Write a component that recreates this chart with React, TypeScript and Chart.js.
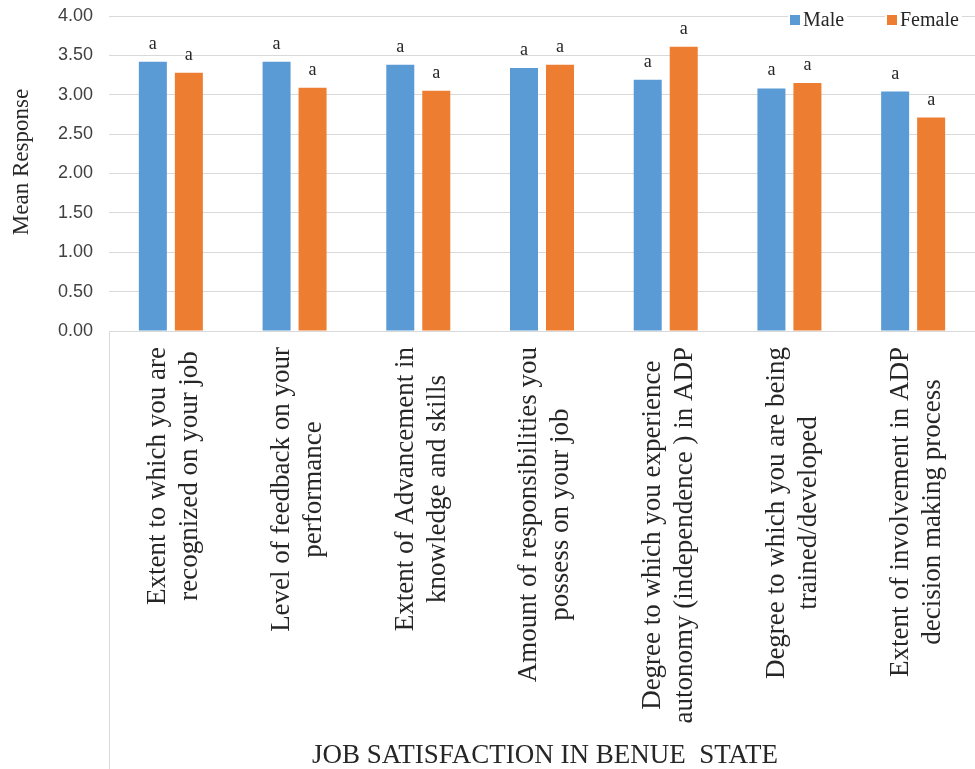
import { useEffect, useRef } from "react";
import { Chart, registerables } from "chart.js";

Chart.register(...registerables);

const categories: string[][] = [
  ["Extent to which you are", "recognized on your job"],
  ["Level of feedback on your", "performance"],
  ["Extent of Advancement in", "knowledge and skills"],
  ["Amount of responsibilities you", "possess on your job"],
  ["Degree to which you experience", "autonomy (independence ) in ADP"],
  ["Degree to which you are being", "trained/developed"],
  ["Extent of involvement in ADP", "decision making process"],
];

const seriesNames = ["Male", "Female"];
const maleValues = [3.42, 3.42, 3.38, 3.34, 3.19, 3.08, 3.04];
const femaleValues = [3.28, 3.09, 3.05, 3.38, 3.61, 3.15, 2.71];
const maleLetters = ["a", "a", "a", "a", "a", "a", "a"];
const femaleLetters = ["a", "a", "a", "a", "a", "a", "a"];
const seriesColors = ["#5b9bd5", "#ed7d31"];

const yMin = 0;
const yMax = 4;
const yStep = 0.5;

const yTitle = "Mean Response";
const xTitle = "JOB SATISFACTION IN BENUE  STATE";

const SERIF = '"Liberation Serif", "Times New Roman", serif';
const SANS = '"Liberation Sans", Arial, sans-serif';
const TEXT = "#262626";
const GRID = "#d9d9d9";

const overlayPlugin = {
  id: "overlay",
  afterDatasetsDraw(chart: any) {
    const ctx: CanvasRenderingContext2D = chart.ctx;
    const area = chart.chartArea;
    const xs = chart.scales.x;
    ctx.save();

    // significance letters above bars
    ctx.font = `18px ${SERIF}`;
    ctx.fillStyle = TEXT;
    ctx.textAlign = "center";
    ctx.textBaseline = "alphabetic";
    [maleLetters, femaleLetters].forEach((letters, di) => {
      const meta = chart.getDatasetMeta(di);
      meta.data.forEach((bar: any, i: number) => {
        ctx.fillText(letters[i], bar.x, bar.y - 13);
      });
    });

    // category labels (rotated, lines centred, block near axis)
    const fs = 27;
    const lh = 32;
    ctx.font = `${fs}px ${SERIF}`;
    ctx.textAlign = "center";
    ctx.textBaseline = "alphabetic";
    categories.forEach((lines, i) => {
      const cx = xs.getPixelForValue(i);
      const maxW = Math.max(...lines.map((l) => ctx.measureText(l).width));
      const midY = area.bottom + 16 + maxW / 2;
      lines.forEach((line, j) => {
        const bx = cx + (j - (lines.length - 1) / 2) * lh + fs * 0.33 + 1.5;
        ctx.save();
        ctx.translate(bx, midY);
        ctx.rotate(-Math.PI / 2);
        ctx.fillText(line, 0, 0);
        ctx.restore();
      });
    });

    // left separator line of category area
    ctx.strokeStyle = GRID;
    ctx.lineWidth = 1;
    ctx.beginPath();
    ctx.moveTo(Math.round(area.left) + 0.5, area.bottom);
    ctx.lineTo(Math.round(area.left) + 0.5, chart.height);
    ctx.stroke();

    // x title
    ctx.font = `27px ${SERIF}`;
    ctx.fillStyle = TEXT;
    ctx.textAlign = "center";
    ctx.textBaseline = "alphabetic";
    ctx.fillText(xTitle, (area.left + area.right) / 2 + 3, chart.height - 6);

    // y title
    ctx.save();
    ctx.font = `23px ${SERIF}`;
    ctx.translate(28, 162);
    ctx.rotate(-Math.PI / 2);
    ctx.textAlign = "center";
    ctx.textBaseline = "alphabetic";
    ctx.fillText(yTitle, 0, 0);
    ctx.restore();

    // legend (each entry on a white backing over the grid line)
    ctx.font = `20px ${SERIF}`;
    ctx.textAlign = "left";
    ctx.textBaseline = "alphabetic";
    const legendX = [790, 887];
    seriesNames.forEach((name, k) => {
      const w = ctx.measureText(name).width;
      ctx.fillStyle = "#ffffff";
      ctx.fillRect(legendX[k] - 2, 8, w + 18, 22);
      ctx.fillStyle = seriesColors[k];
      ctx.fillRect(legendX[k], 15, 10, 10);
      ctx.fillStyle = TEXT;
      ctx.fillText(name, legendX[k] + 13, 25.5);
    });

    ctx.restore();
  },
};

export default function App() {
  const canvasRef = useRef<HTMLCanvasElement | null>(null);

  useEffect(() => {
    if (!canvasRef.current) return;
    const chart = new Chart(canvasRef.current, {
      type: "bar",
      data: {
        labels: categories.map((c) => c.join(" ")),
        datasets: [
          {
            label: seriesNames[0],
            data: maleValues,
            backgroundColor: seriesColors[0],
            categoryPercentage: 0.582,
            barPercentage: 0.778,
          },
          {
            label: seriesNames[1],
            data: femaleValues,
            backgroundColor: seriesColors[1],
            categoryPercentage: 0.582,
            barPercentage: 0.778,
          },
        ],
      },
      options: {
        animation: false,
        responsive: false,
        maintainAspectRatio: false,
        layout: { padding: { top: 16, left: 0, right: 0, bottom: 438 } },
        plugins: {
          legend: { display: false },
          tooltip: { enabled: false },
          title: { display: false },
        },
        scales: {
          x: {
            ticks: { display: false },
            grid: { display: false },
            border: { display: true, color: GRID, width: 1 },
            afterFit: (scale: any) => {
              scale.height = 0;
              scale.paddingLeft = 0;
              scale.paddingRight = 0;
            },
          },
          y: {
            min: yMin,
            max: yMax,
            ticks: {
              stepSize: yStep,
              padding: 16,
              color: "#404040",
              font: { family: SANS, size: 18 },
              callback: (v: any) => Number(v).toFixed(2),
            },
            grid: { color: GRID, drawTicks: false, lineWidth: 1 },
            border: { display: false },
            afterFit: (scale: any) => {
              scale.width = 109;
              scale.paddingTop = 0;
              scale.paddingBottom = 0;
            },
          },
        },
      },
      plugins: [overlayPlugin],
    });
    return () => chart.destroy();
  }, []);

  return (
    <div style={{ position: "absolute", left: 0, top: 0, width: 975, height: 769, background: "#fff" }}>
      <canvas ref={canvasRef} width={975} height={769} style={{ display: "block" }} />
    </div>
  );
}
